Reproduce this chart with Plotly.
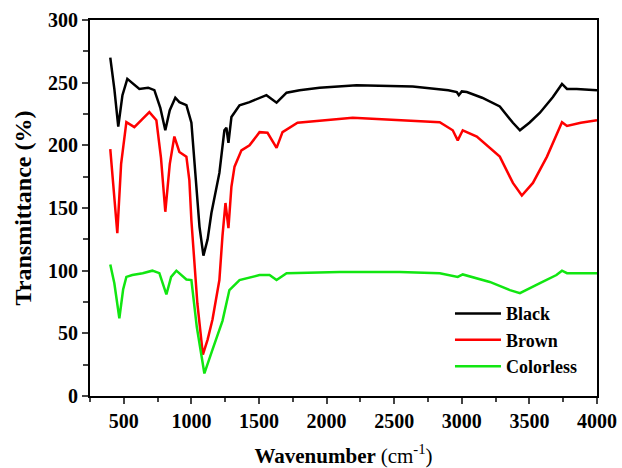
import plotly.graph_objects as go

black_x = [400, 430, 459, 490, 526, 560, 615, 680, 726, 770, 807, 840, 881, 911, 963, 1000, 1035, 1060, 1089, 1120, 1148, 1207, 1244, 1259, 1274, 1296, 1356, 1430, 1555, 1630, 1704, 1800, 1948, 2222, 2637, 2900, 2963, 2978, 3000, 3037, 3150, 3281, 3378, 3430, 3500, 3578, 3674, 3741, 3778, 3850, 4000]
black_y = [270, 245, 215, 240, 253, 250, 245, 246, 244, 230, 212, 228, 238, 234.5, 232, 218, 172, 135, 112, 125, 146, 178, 212, 214, 202, 222.6, 232, 234.5, 240, 234, 242, 244, 246, 248, 247, 244, 242.5, 240, 243, 242.5, 238, 231, 218, 212, 218, 226, 238.5, 249, 245, 245, 244]

brown_x = [400, 430, 452, 480, 519, 578, 630, 689, 741, 775, 807, 840, 874, 911, 963, 985, 1000, 1044, 1085, 1120, 1156, 1207, 1230, 1252, 1274, 1296, 1319, 1370, 1430, 1504, 1563, 1630, 1674, 1785, 2193, 2837, 2933, 2970, 3007, 3111, 3281, 3378, 3444, 3526, 3630, 3711, 3741, 3778, 3880, 4000]
brown_y = [197, 160, 130, 185, 218.5, 214.5, 220, 226.5, 220, 190, 147, 185, 207, 194.7, 191, 172, 140, 74, 33, 45, 61, 92.5, 128, 154, 134, 167, 183, 196, 200, 210.5, 210, 198, 210.5, 218, 222, 218.5, 212, 204, 212, 207, 191, 170, 160, 170, 191, 212, 218.5, 215.5, 218, 220]

colorless_x = [400, 430, 467, 495, 519, 563, 640, 711, 763, 815, 850, 889, 963, 1000, 1040, 1096, 1156, 1230, 1281, 1356, 1504, 1578, 1630, 1704, 2096, 2541, 2837, 2970, 3007, 3207, 3356, 3430, 3578, 3700, 3741, 3778, 4000]
colorless_y = [105, 90, 62, 85, 95, 96.5, 98, 100, 98, 81, 95, 100, 93, 92.5, 55, 18, 37, 60, 84.5, 92.5, 96.5, 96.5, 92.5, 98, 99, 99, 98, 95, 97, 91, 84.5, 82, 90, 96.5, 100, 98, 98]

x_ticks = [500, 1000, 1500, 2000, 2500, 3000, 3500, 4000]
y_ticks = [0, 50, 100, 150, 200, 250, 300]

series = [
    ("Black", black_x, black_y, "#000000"),
    ("Brown", brown_x, brown_y, "#ff0000"),
    ("Colorless", colorless_x, colorless_y, "#11e611"),
]

fig = go.Figure()
for name, xs, ys, col in series:
    fig.add_trace(go.Scatter(x=xs, y=ys, mode="lines", name=name,
                             line=dict(color=col, width=2.5)))

font_family = "Liberation Serif"
fig.update_layout(
    width=622, height=468,
    margin=dict(l=90, r=25, t=20, b=72),
    paper_bgcolor="white", plot_bgcolor="white",
    font=dict(family=font_family, color="black"),
    showlegend=True,
    legend=dict(x=0.71, y=0.268, xanchor="left", yanchor="top",
                bgcolor="rgba(0,0,0,0)", borderwidth=0,
                font=dict(family=font_family, size=18, color="black", weight="bold"),
                tracegroupgap=0, itemwidth=46),
)
fig.update_xaxes(
    range=[250, 4000], tickvals=x_ticks, ticks="outside", ticklen=6, tickwidth=2,
    showline=True, linewidth=2, linecolor="black", mirror=True, showgrid=False, zeroline=False,
    automargin=False,
    tickfont=dict(family=font_family, size=20, weight="bold"),
    minor=dict(ticks="outside", ticklen=4, tickwidth=2, dtick=250, tick0=250, showgrid=False),
    title=dict(text="Wavenumber <span style='font-weight:normal'>(cm<sup>-1</sup>)</span>",
               font=dict(family=font_family, size=21, weight="bold"), standoff=18),
)
fig.update_yaxes(
    range=[0, 300], tickvals=y_ticks, ticks="outside", ticklen=6, tickwidth=2,
    showline=True, linewidth=2, linecolor="black", mirror=True, showgrid=False, zeroline=False,
    automargin=False,
    tickfont=dict(family=font_family, size=20, weight="bold"),
    minor=dict(ticks="outside", ticklen=5, tickwidth=2, dtick=25, tick0=0, showgrid=False),
    title=dict(text="Transmittance (%)",
               font=dict(family=font_family, size=24, weight="bold"), standoff=10),
)

fig.write_html("out.html")
